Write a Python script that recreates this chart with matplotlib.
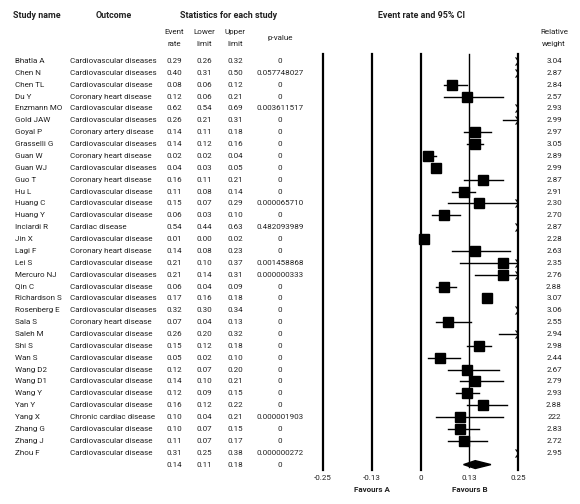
import numpy as np
import matplotlib
matplotlib.use("Agg")
import matplotlib.pyplot as plt
from matplotlib.path import Path
from matplotlib.transforms import blended_transform_factory

plt.rcParams['font.family'] = ['Roboto', 'DejaVu Sans']

# study data
studies = ['Bhatla A', 'Chen N', 'Chen TL', 'Du Y', 'Enzmann MO', 'Gold JAW', 'Goyal P',
           'Grasselli G', 'Guan W', 'Guan WJ', 'Guo T', 'Hu L', 'Huang C', 'Huang Y',
           'Inciardi R', 'Jin X', 'Lagi F', 'Lei S', 'Mercuro NJ', 'Qin C', 'Richardson S',
           'Rosenberg E', 'Sala S', 'Saleh M', 'Shi S', 'Wan S', 'Wang D2', 'Wang D1',
           'Wang Y', 'Yan Y', 'Yang X', 'Zhang G', 'Zhang J', 'Zhou F']
outcomes = ['Cardiovascular diseases', 'Cardiovascular diseases', 'Cardiovascular disease',
            'Coronary heart disease', 'Cardiovascular disease', 'Cardiovascular diseases',
            'Coronary artery disease', 'Cardiovascular diseases', 'Coronary heart disease',
            'Cardiovascular diseases', 'Coronary heart disease', 'Cardiovascular disease',
            'Cardiovascular disease', 'Cardiovascular disease', 'Cardiac disease',
            'Cardiovascular disease', 'Coronary heart disease', 'Cardiovascular disease',
            'Cardiovascular diseases', 'Cardiovascular disease', 'Cardiovascular diseases',
            'Cardiovascular diseases', 'Coronary heart disease', 'Cardiovascular disease',
            'Cardiovascular disease', 'Cardiovascular disease', 'Cardiovascular disease',
            'Cardiovascular disease', 'Cardiovascular disease', 'Cardiovascular disease',
            'Chronic cardiac disease', 'Cardiovascular disease', 'Cardiovascular disease',
            'Cardiovascular disease']
event_rate = [0.29, 0.40, 0.08, 0.12, 0.62, 0.26, 0.14, 0.14, 0.02, 0.04, 0.16, 0.11,
              0.15, 0.06, 0.54, 0.01, 0.14, 0.21, 0.21, 0.06, 0.17, 0.32, 0.07, 0.26,
              0.15, 0.05, 0.12, 0.14, 0.12, 0.16, 0.10, 0.10, 0.11, 0.31]
lower = [0.26, 0.31, 0.06, 0.06, 0.54, 0.21, 0.11, 0.12, 0.02, 0.03, 0.11, 0.08,
         0.07, 0.03, 0.44, 0.00, 0.08, 0.10, 0.14, 0.04, 0.16, 0.30, 0.04, 0.20,
         0.12, 0.02, 0.07, 0.10, 0.09, 0.12, 0.04, 0.07, 0.07, 0.25]
upper = [0.32, 0.50, 0.12, 0.21, 0.69, 0.31, 0.18, 0.16, 0.04, 0.05, 0.21, 0.14,
         0.29, 0.10, 0.63, 0.02, 0.23, 0.37, 0.31, 0.09, 0.18, 0.34, 0.13, 0.32,
         0.18, 0.10, 0.20, 0.21, 0.15, 0.22, 0.21, 0.15, 0.17, 0.38]
p_values = ['0', '0.057748027', '0', '0', '0.003611517', '0', '0', '0', '0', '0', '0', '0',
            '0.000065710', '0', '0.482093989', '0', '0', '0.001458868', '0.000000333', '0',
            '0', '0', '0', '0', '0', '0', '0', '0', '0', '0', '0.000001903', '0', '0',
            '0.000000272']
weight_labels = ['3.04', '2.87', '2.84', '2.57', '2.93', '2.99', '2.97', '3.05', '2.89', '2.99',
                 '2.87', '2.91', '2.30', '2.70', '2.87', '2.28', '2.63', '2.35', '2.76', '2.88',
                 '3.07', '3.06', '2.55', '2.94', '2.98', '2.44', '2.67', '2.79', '2.93', '2.88',
                 '222', '2.83', '2.72', '2.95']
weights = [3.04, 2.87, 2.84, 2.57, 2.93, 2.99, 2.97, 3.05, 2.89, 2.99, 2.87, 2.91, 2.30, 2.70,
           2.87, 2.28, 2.63, 2.35, 2.76, 2.88, 3.07, 3.06, 2.55, 2.94, 2.98, 2.44, 2.67, 2.79,
           2.93, 2.88, 2.22, 2.83, 2.72, 2.95]
summary = (0.14, 0.11, 0.18, '0')

xticks = [-0.25, -0.125, 0, 0.125, 0.25]
xtick_labels = ['-0.25', '-0.13', '0', '0.13', '0.25']

W, H = 580, 504
fig = plt.figure(figsize=(W / 100, H / 100), dpi=100)
x_left, x_right = 322.7, 518.3
ax = fig.add_axes([x_left / W, 0, (x_right - x_left) / W, 1])
ax.set_xlim(-0.25, 0.25)
row0, step = 61.0, 11.87
ax.set_ylim((H - row0) / step, -row0 / step)
ax.axis('off')

def row(py):
    return (py - row0) / step

tc = '#222222'
fs = 5.8
fs_head = 6.4
trans = blended_transform_factory(fig.transFigure, ax.transData)

def txt(px, r, s, ha='left', bold=False):
    ax.text(px / W, r, s, transform=trans, ha=ha, va='center',
            fontsize=fs_head if bold else fs, color=tc,
            fontweight='bold' if bold else 'normal')

# headers
txt(12.7, row(16), 'Study name', bold=True)
txt(113.5, row(16), 'Outcome', ha='center', bold=True)
txt(228.5, row(16), 'Statistics for each study', ha='center', bold=True)
txt(421.7, row(16), 'Event rate and 95% CI', ha='center', bold=True)
for cx, top, bot in [(174, 'Event', 'rate'), (204, 'Lower', 'limit'), (235, 'Upper', 'limit'),
                     (554, 'Relative', 'weight')]:
    txt(cx, row(32), top, ha='center')
    txt(cx, row(44), bot, ha='center')
txt(280, row(38), 'p-value', ha='center')

# table rows
n = len(studies)
for i in range(n):
    txt(15, i, studies[i])
    txt(70, i, outcomes[i])
    txt(174, i, f'{event_rate[i]:.2f}', ha='center')
    txt(204, i, f'{lower[i]:.2f}', ha='center')
    txt(235, i, f'{upper[i]:.2f}', ha='center')
    txt(280, i, p_values[i], ha='center')
    txt(554, i, weight_labels[i], ha='center')
txt(174, n, f'{summary[0]:.2f}', ha='center')
txt(204, n, f'{summary[1]:.2f}', ha='center')
txt(235, n, f'{summary[2]:.2f}', ha='center')
txt(280, n, summary[3], ha='center')

# reference lines
y_top, y_bot = row(54), row(470)
for xv in xticks:
    if xv == 0.125:
        ax.plot([xv, xv], [y_top, row(467)], color='black', lw=1.0, clip_on=False)
    else:
        ax.plot([xv, xv], [y_top, y_bot], color='black', lw=1.6, clip_on=False)

# open chevron used where the interval runs past the axis
chevron = Path([(-0.7, 1.0), (0.0, 0.0), (-0.7, -1.0)],
               [Path.MOVETO, Path.LINETO, Path.LINETO])

# confidence intervals and boxes
xmax = 0.25
for i in range(n):
    lo, hi, er = lower[i], upper[i], event_rate[i]
    if hi > xmax:
        if lo < xmax:
            ax.plot([lo, xmax], [i, i], color='black', lw=1.0)
        ax.plot(xmax, i, marker=chevron, ms=6, mfc='none', mec='black', mew=0.8,
                clip_on=False)
    else:
        ax.plot([lo, hi], [i, i], color='black', lw=1.0)
    if er <= xmax:
        ax.plot(er, i, marker='s', color='black', ms=5.0 + 0.9 * weights[i], zorder=3)

# summary diamond
s_er, s_lo, s_hi = summary[0], summary[1], summary[2]
ax.fill([s_lo, s_er, s_hi, s_er], [n, n - 0.33, n, n + 0.33], color='black', zorder=3)

# axis labels
for xv, lab in zip(xticks, xtick_labels):
    ax.text(xv, row(478), lab, ha='center', va='center', fontsize=fs, color=tc)
ax.text(-0.125, row(490), 'Favours A', ha='center', va='center', fontsize=fs, color=tc,
        fontweight='bold')
ax.text(0.125, row(490), 'Favours B', ha='center', va='center', fontsize=fs, color=tc,
        fontweight='bold')

fig.savefig('out.png', dpi=100)
